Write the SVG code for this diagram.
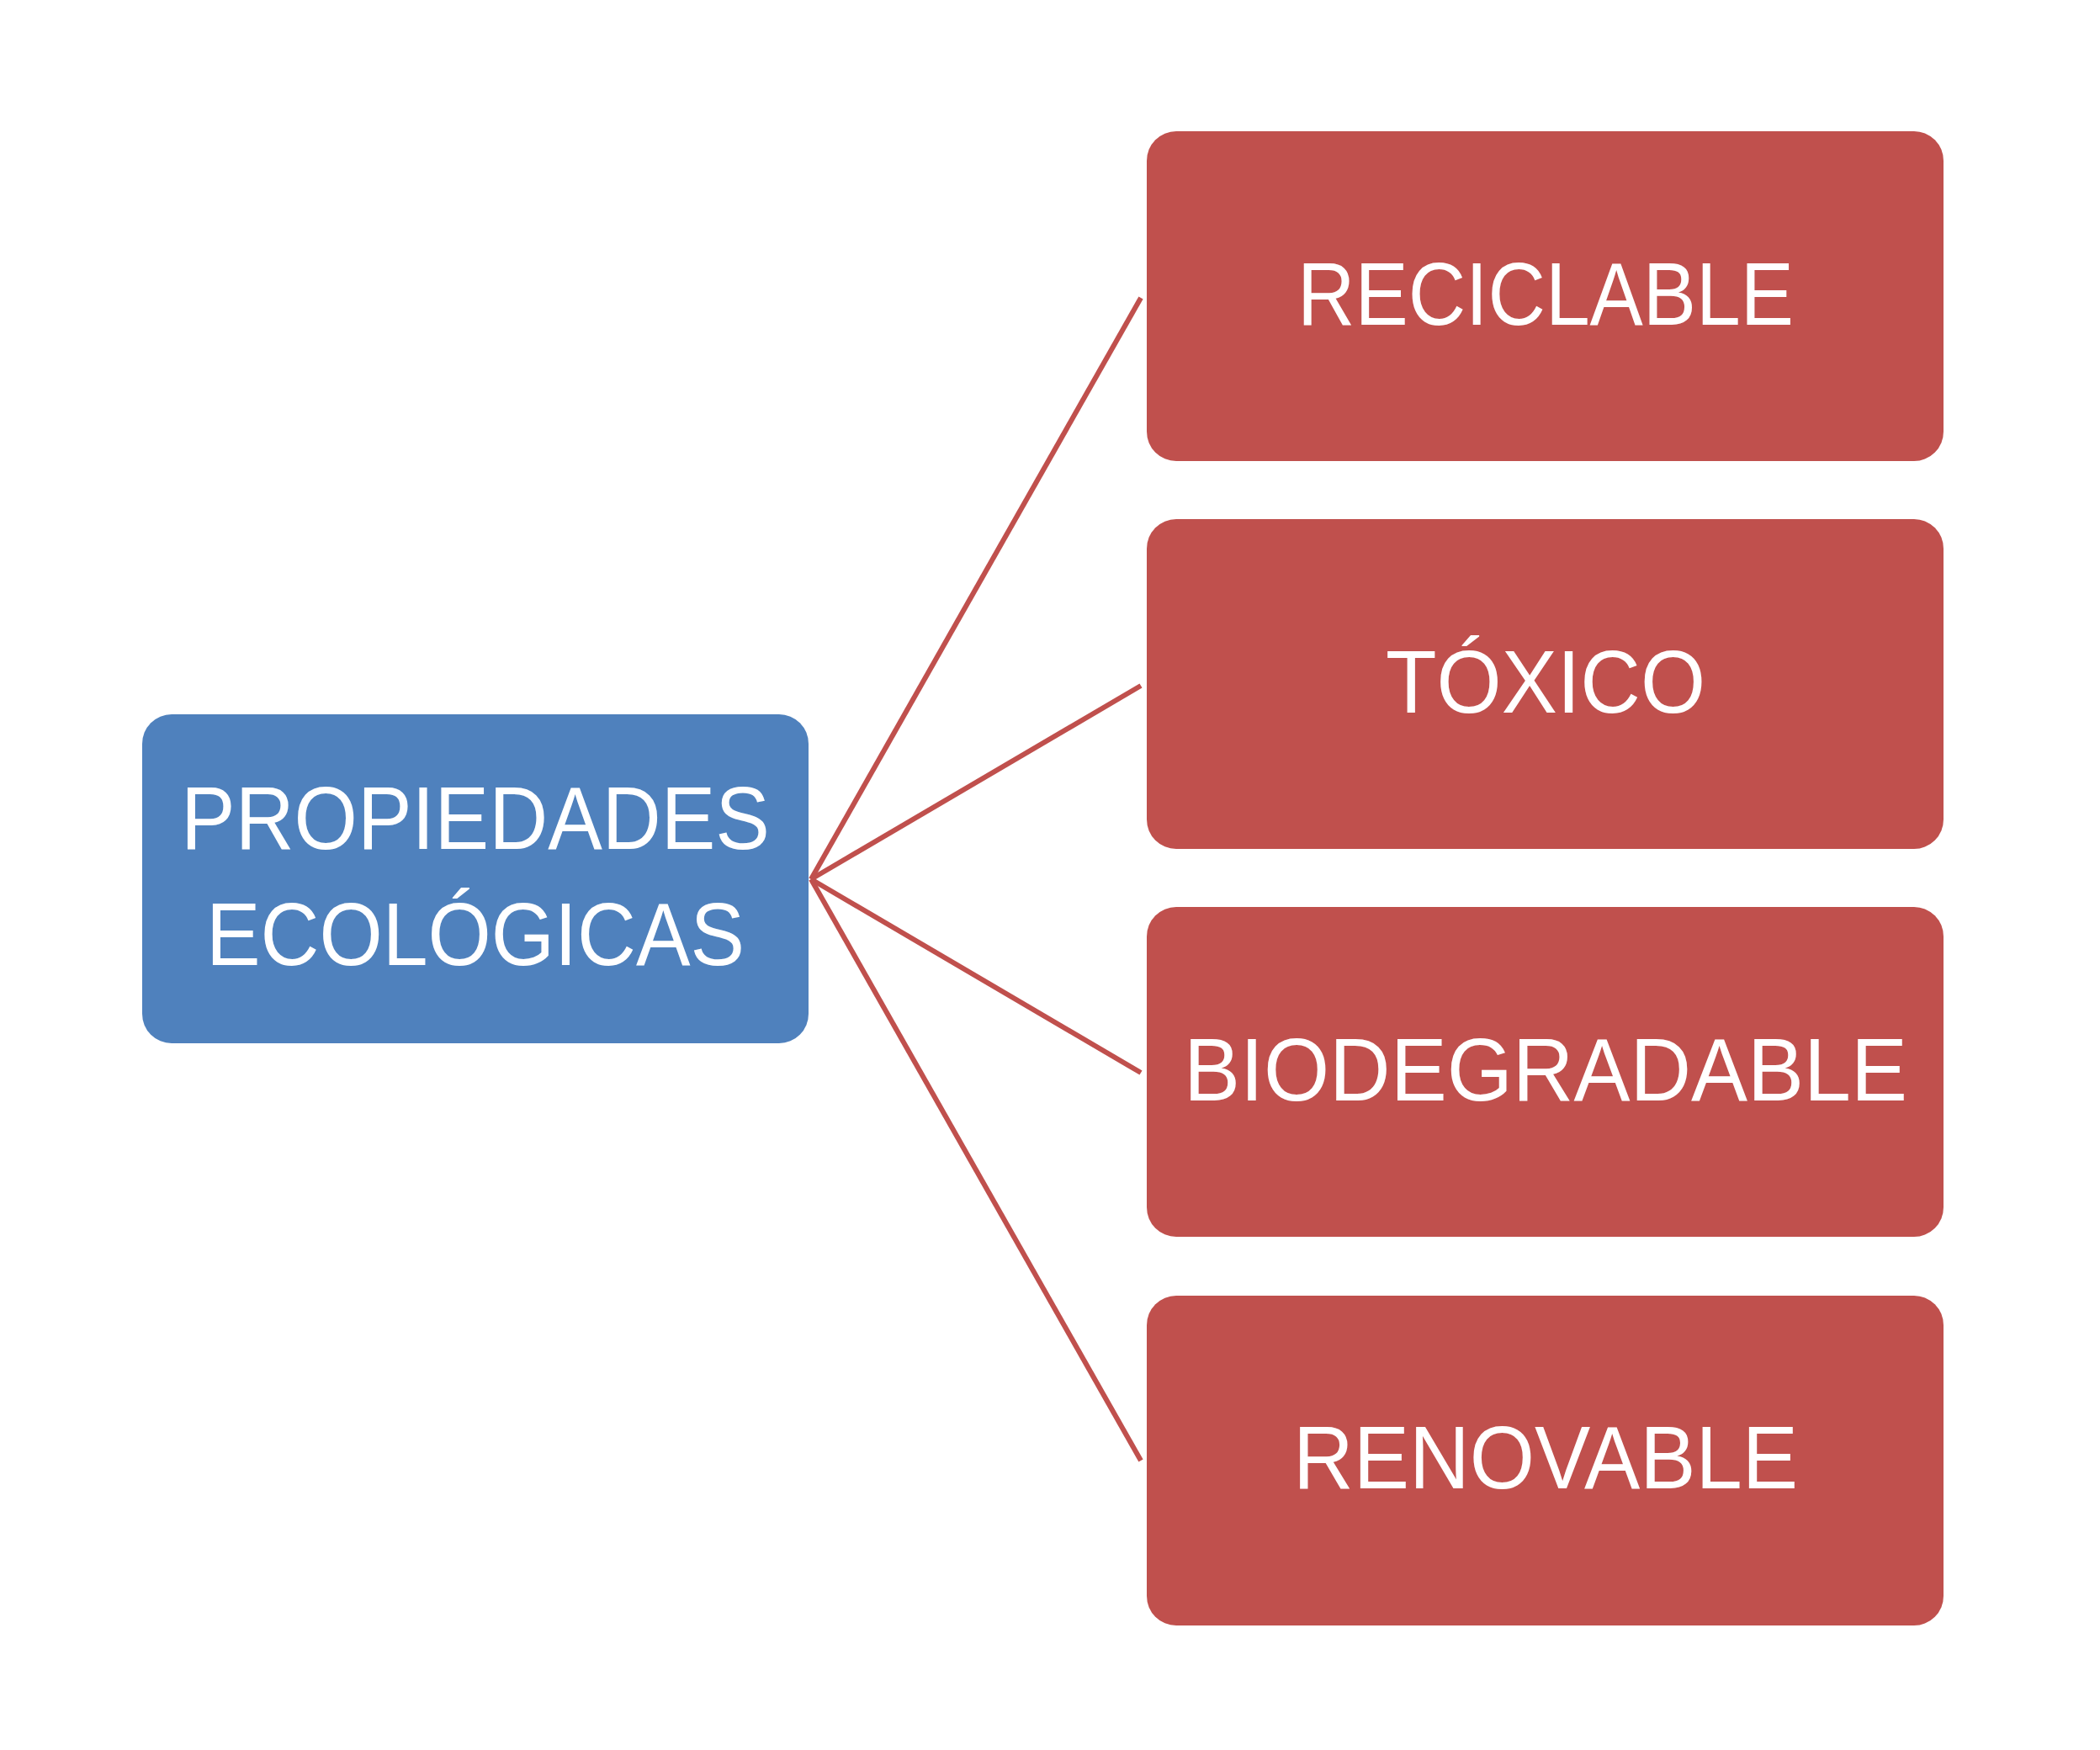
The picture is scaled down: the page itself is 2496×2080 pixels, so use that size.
<svg xmlns="http://www.w3.org/2000/svg" width="2496" height="2080" viewBox="0 0 2496 2080">
<style>
.r{fill:#C0504D}
.b{fill:#4F81BD}
text{font-family:"Liberation Sans","Open Sans",sans-serif;font-size:106px;fill:#fff;text-anchor:middle}
.c line{stroke:#C0504D;stroke-width:6}
</style>
<rect width="2496" height="2080" fill="#fff"/>
<g class="c" id="connectors">
<line x1="964" y1="1045" x2="1356" y2="354"/>
<line x1="964" y1="1045" x2="1356" y2="815"/>
<line x1="964" y1="1045" x2="1356" y2="1275"/>
<line x1="964" y1="1045" x2="1356" y2="1736"/>
</g>
<g id="root"><rect class="b" x="169" y="849" width="792" height="391" rx="35"/>
<text x="565" y="1009" textLength="700" lengthAdjust="spacingAndGlyphs">PROPIEDADES</text>
<text x="565" y="1147" textLength="640" lengthAdjust="spacingAndGlyphs">ECOLÓGICAS</text></g>
<g id="n1"><rect class="r" x="1363" y="156" width="947" height="392" rx="35"/><text x="1837" y="386" textLength="590" lengthAdjust="spacingAndGlyphs">RECICLABLE</text></g>
<g id="n2"><rect class="r" x="1363" y="617" width="947" height="392" rx="35"/><text x="1837" y="847" textLength="380" lengthAdjust="spacingAndGlyphs">TÓXICO</text></g>
<g id="n3"><rect class="r" x="1363" y="1078" width="947" height="392" rx="35"/><text x="1837" y="1308" textLength="860" lengthAdjust="spacingAndGlyphs">BIODEGRADABLE</text></g>
<g id="n4"><rect class="r" x="1363" y="1540" width="947" height="392" rx="35"/><text x="1837" y="1769" textLength="600" lengthAdjust="spacingAndGlyphs">RENOVABLE</text></g>
</svg>
